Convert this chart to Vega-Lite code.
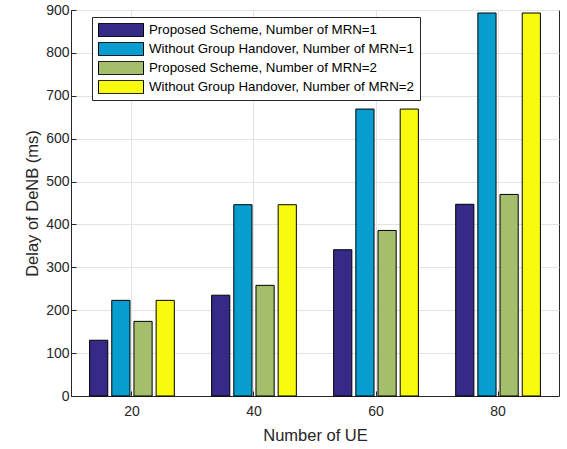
{
  "$schema": "https://vega.github.io/schema/vega-lite/v6.json",
  "width": 488,
  "height": 386,
  "autosize": "none",
  "padding": {"left": 71, "top": 10, "right": 8, "bottom": 53},
  "background": "white",
  "config": {
    "font": "Liberation Sans",
    "view": {"stroke": "#262626", "strokeWidth": 1},
    "axis": {
      "labelFont": "Liberation Sans",
      "titleFont": "Liberation Sans",
      "labelFontSize": 14,
      "titleFontSize": 16.5,
      "titleFontWeight": "normal",
      "labelColor": "#262626",
      "titleColor": "#262626",
      "domainColor": "#262626",
      "tickColor": "#262626",
      "gridColor": "#e3e3e3",
      "gridWidth": 1,
      "tickSize": -5
    }
  },
  "data": {
    "values": [
      {"UE": "20", "series": "Proposed Scheme, Number of MRN=1", "delay": 130},
      {"UE": "20", "series": "Without Group Handover, Number of MRN=1", "delay": 223},
      {"UE": "20", "series": "Proposed Scheme, Number of MRN=2", "delay": 174},
      {"UE": "20", "series": "Without Group Handover, Number of MRN=2", "delay": 223},
      {"UE": "40", "series": "Proposed Scheme, Number of MRN=1", "delay": 235},
      {"UE": "40", "series": "Without Group Handover, Number of MRN=1", "delay": 446},
      {"UE": "40", "series": "Proposed Scheme, Number of MRN=2", "delay": 258},
      {"UE": "40", "series": "Without Group Handover, Number of MRN=2", "delay": 446},
      {"UE": "60", "series": "Proposed Scheme, Number of MRN=1", "delay": 341},
      {"UE": "60", "series": "Without Group Handover, Number of MRN=1", "delay": 669},
      {"UE": "60", "series": "Proposed Scheme, Number of MRN=2", "delay": 386},
      {"UE": "60", "series": "Without Group Handover, Number of MRN=2", "delay": 669},
      {"UE": "80", "series": "Proposed Scheme, Number of MRN=1", "delay": 447},
      {"UE": "80", "series": "Without Group Handover, Number of MRN=1", "delay": 893},
      {"UE": "80", "series": "Proposed Scheme, Number of MRN=2", "delay": 470},
      {"UE": "80", "series": "Without Group Handover, Number of MRN=2", "delay": 893}
    ]
  },
  "mark": {"type": "bar", "stroke": "#000000", "strokeWidth": 1},
  "encoding": {
    "x": {
      "field": "UE",
      "type": "ordinal",
      "sort": ["20", "40", "60", "80"],
      "scale": {"paddingInner": 0.273, "paddingOuter": 0.136},
      "axis": {
        "title": "Number of UE",
        "labelAngle": 0,
        "grid": true,
        "bandPosition": 0.5,
        "labelPadding": 13,
        "titlePadding": 9
      }
    },
    "xOffset": {
      "field": "series",
      "sort": [
        "Proposed Scheme, Number of MRN=1",
        "Without Group Handover, Number of MRN=1",
        "Proposed Scheme, Number of MRN=2",
        "Without Group Handover, Number of MRN=2"
      ],
      "scale": {"paddingInner": 0.18, "paddingOuter": 0.09}
    },
    "y": {
      "field": "delay",
      "type": "quantitative",
      "scale": {"domain": [0, 900], "nice": false},
      "axis": {
        "title": "Delay of DeNB (ms)",
        "values": [0, 100, 200, 300, 400, 500, 600, 700, 800, 900],
        "grid": true,
        "labelPadding": 7,
        "titlePadding": 5
      }
    },
    "color": {
      "field": "series",
      "type": "nominal",
      "scale": {
        "domain": [
          "Proposed Scheme, Number of MRN=1",
          "Without Group Handover, Number of MRN=1",
          "Proposed Scheme, Number of MRN=2",
          "Without Group Handover, Number of MRN=2"
        ],
        "range": ["#352a87", "#079dcf", "#a5be6b", "#f9fb0e"]
      },
      "legend": {
        "title": null,
        "orient": "none",
        "legendX": 21,
        "legendY": 7,
        "direction": "vertical",
        "fillColor": "white",
        "strokeColor": "#262626",
        "padding": 6,
        "symbolType": "M-1,-0.296H1V0.296H-1Z",
        "symbolSize": 2025,
        "symbolStrokeColor": "#000000",
        "symbolStrokeWidth": 1,
        "symbolOpacity": 1,
        "clipHeight": 14,
        "rowPadding": 5,
        "labelOffset": 5,
        "labelFont": "Liberation Sans",
        "labelFontSize": 13.3,
        "labelColor": "#000000",
        "labelLimit": 400
      }
    }
  }
}
